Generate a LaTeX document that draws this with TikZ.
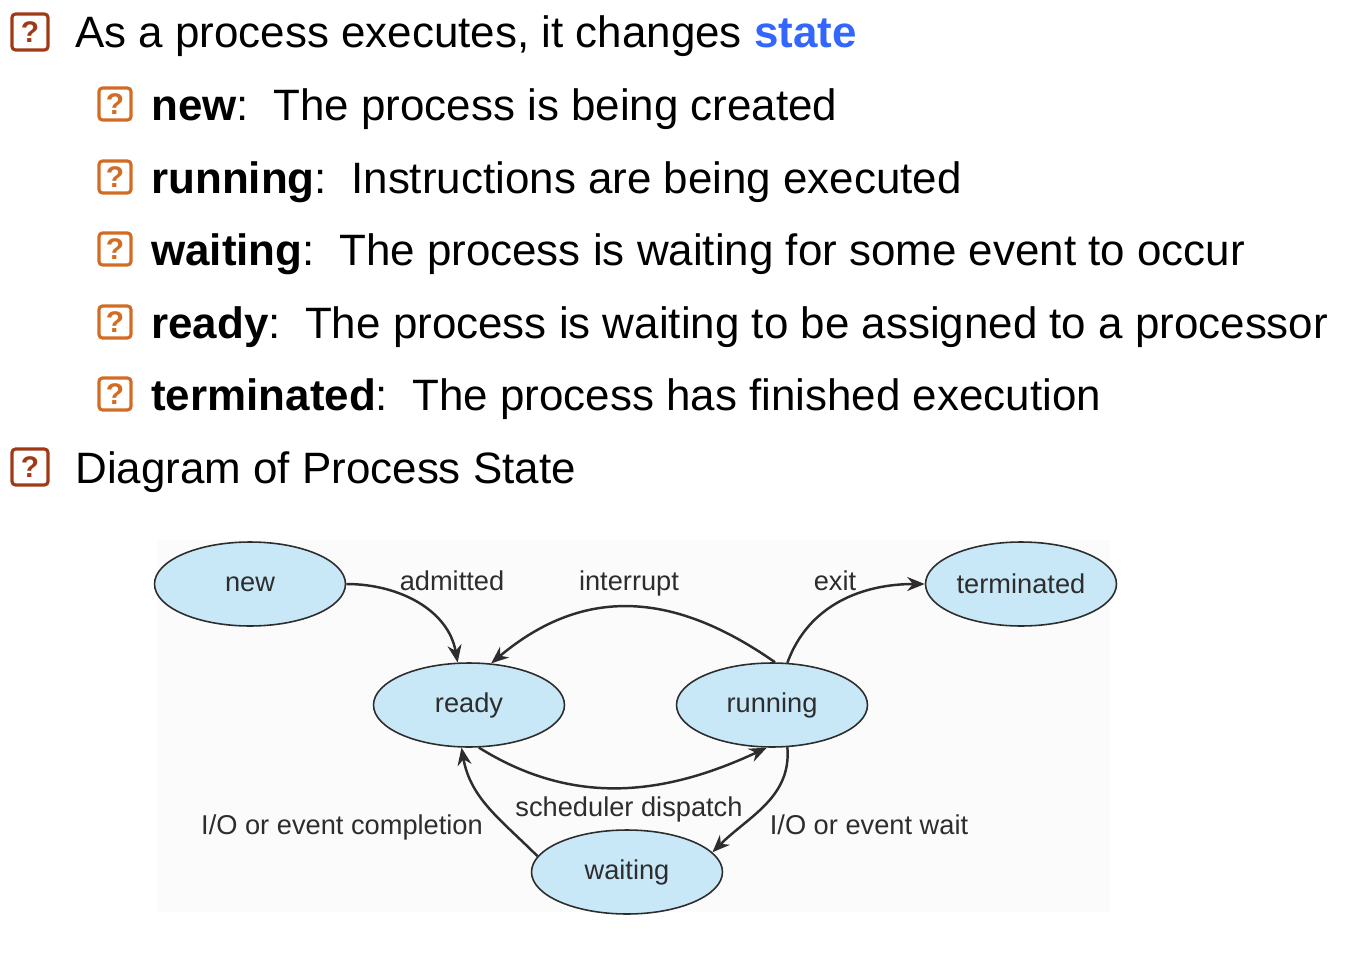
\documentclass[tikz,border=0pt]{standalone}
\usepackage{fontspec}
\setmainfont{Liberation Sans}
\usetikzlibrary{shapes.geometric, arrows.meta, positioning}
\definecolor{bulletRed}{RGB}{160, 58, 22}
\definecolor{bulletOrange}{RGB}{210, 108, 36}
\definecolor{stateBlue}{RGB}{51, 102, 255}
\definecolor{stateFill}{RGB}{200, 232, 248}
\definecolor{labelGray}{RGB}{45, 45, 45}

\begin{document}
\begin{tikzpicture}[x=0.02cm, y=0.02cm,
    qbox/.style={draw, line width=1.8pt, rounded corners=2pt, inner sep=0pt, font=\bfseries\fontsize{17}{17}\selectfont},
    topbox/.style={qbox, bulletRed, minimum width=0.72cm, minimum height=0.72cm},
    subbox/.style={qbox, bulletOrange, minimum width=0.64cm, minimum height=0.64cm},
    textline/.style={anchor=base west, inner sep=0pt, font=\fontsize{25}{30}\selectfont},
    state/.style={ellipse, draw=labelGray, line width=0.9pt, fill=stateFill, inner sep=0pt, minimum width=3.82cm, minimum height=1.68cm, font=\fontsize{15.5}{18}\selectfont, text=labelGray},
    lbl/.style={anchor=base, inner sep=0pt, font=\fontsize{15.5}{18}\selectfont, text=labelGray},
    arr/.style={-{Stealth[length=10pt, width=8pt]}, line width=1.4pt, labelGray}]
    \useasboundingbox (0,0) rectangle (1370,-960);
    \fill[black!1.5] (157,-540) rectangle (1110,-912);

    % bullet list
    \node[topbox] (b1) at (30,-32) {?};
    \node[textline] (l1) at (75,-48) {As a process executes, it changes \textcolor{stateBlue}{\bfseries state}};
    \node[subbox] (b2) at (115,-104) {?};
    \node[textline] (l2) at (151,-120) {\textbf{new}:\ \ The process is being created};
    \node[subbox] (b3) at (115,-177) {?};
    \node[textline] (l3) at (151,-193) {\textbf{running}:\ \ Instructions are being executed};
    \node[subbox] (b4) at (115,-249) {?};
    \node[textline] (l4) at (151,-265) {\textbf{waiting}:\ \ The process is waiting for some event to occur};
    \node[subbox] (b5) at (115,-322) {?};
    \node[textline] (l5) at (151,-338) {\textbf{ready}:\ \ The process is waiting to be assigned to a processor};
    \node[subbox] (b6) at (115,-394) {?};
    \node[textline] (l6) at (151,-410) {\textbf{terminated}:\ \ The process has finished execution};
    \node[topbox] (b7) at (30,-467) {?};
    \node[textline] (l7) at (75,-483) {Diagram of Process State};

    % states
    \node[state] (new) at (250,-584) {new};
    \node[state] (ready) at (469,-705) {ready};
    \node[state] (running) at (772,-705) {running};
    \node[state] (terminated) at (1021,-584) {terminated};
    \node[state] (waiting) at (627,-872) {waiting};

    % transitions
    \draw[arr] (new.east) to[out=0, in=100] (ready.105);
    \draw[arr] (running.86) to[out=145, in=40, looseness=1.1] (ready.62);
    \draw[arr] (running.70) to[out=70, in=180] (terminated.west);
    \draw[arr] (ready.-77) to[out=-32, in=205] (running.-97);
    \draw[arr] (running.-70) to[out=-85, in=45] (waiting.13);
    \draw[arr] (waiting.170) to[out=135, in=-80] (ready.-100);

    \node[lbl] (admit) at (452,-590) {admitted};
    \node[lbl] (intr) at (629,-590) {interrupt};
    \node[lbl] (exitl) at (835,-590) {exit};
    \node[lbl] (sched) at (629,-816) {scheduler dispatch};
    \node[lbl] (ioc) at (342,-834) {I/O or event completion};
    \node[lbl] (iow) at (869,-834) {I/O or event wait};
\end{tikzpicture}
\end{document}
